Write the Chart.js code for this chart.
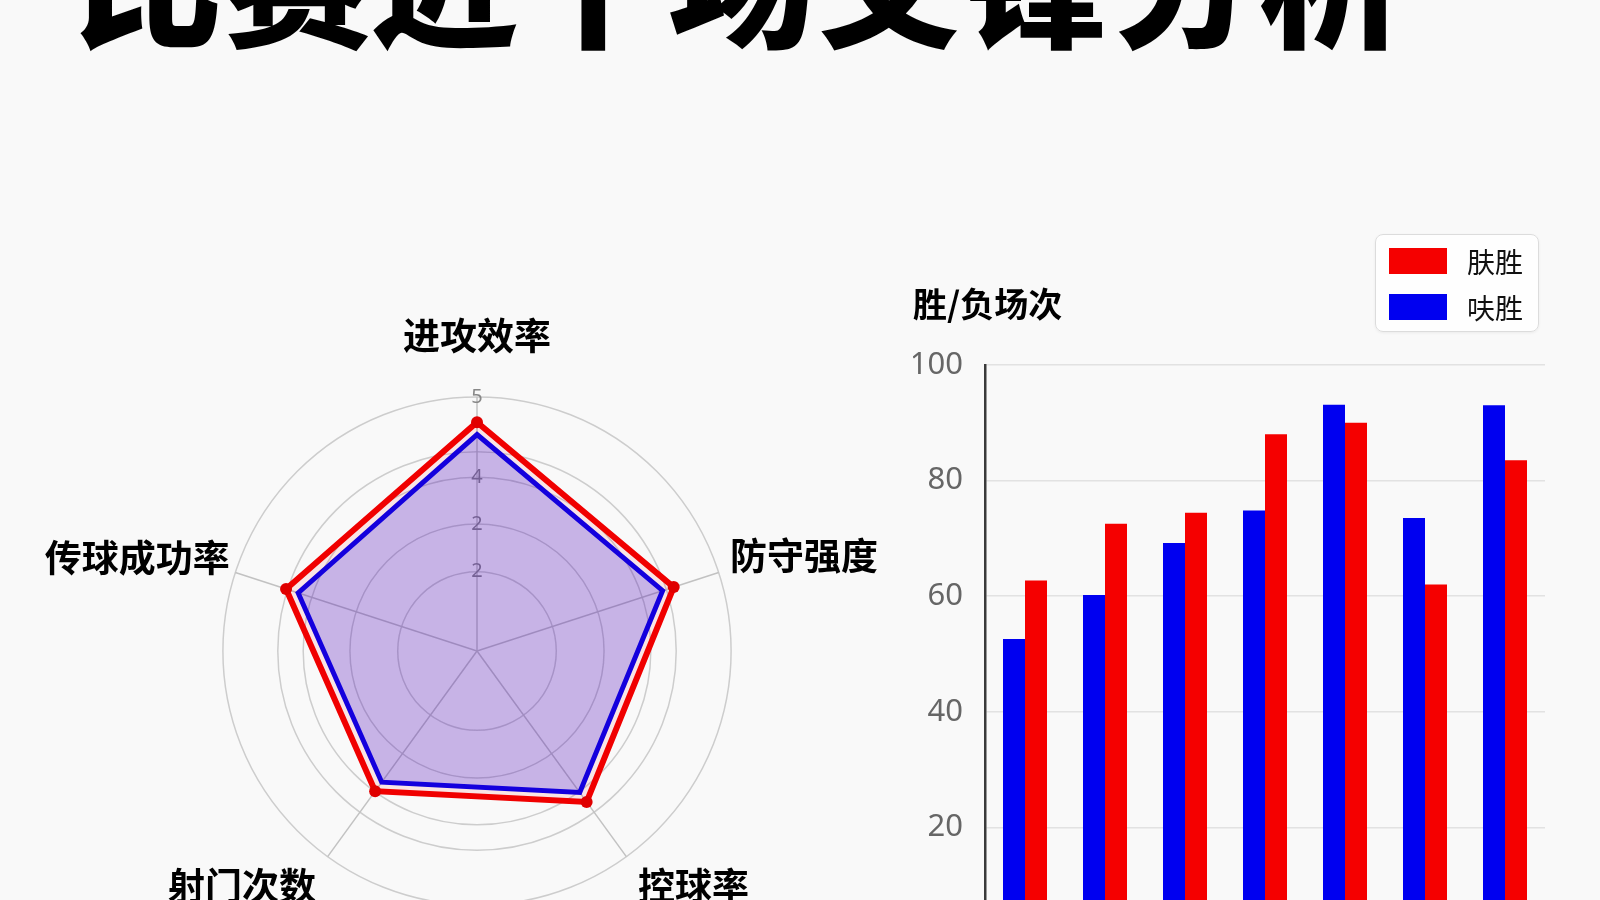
<!DOCTYPE html>
<html lang="zh">
<head>
<meta charset="utf-8">
<title>比赛近十场交锋分析</title>
<script src="https://cdn.jsdelivr.net/npm/chart.js@4.4.0/dist/chart.umd.min.js"></script>
<style>
    html, body { margin: 0; padding: 0; }
    body {
        width: 1600px; height: 900px; overflow: hidden; position: relative;
        background: #f9f9f9;
        font-family: 'Noto Sans CJK SC', sans-serif;
    }
    #page-title {
        position: absolute; left: 75px; top: -102px;
        font-size: 148px; line-height: 148px; font-weight: 900;
        color: #000; white-space: nowrap;
    }
    #radar { position: absolute; left: -73px; top: 293px; }
    #bars { position: absolute; left: 905px; top: 271px; }
    #bar-legend {
        position: absolute; left: 1375px; top: 234px; width: 162px; height: 96px;
        border: 1px solid #dcdcdc; border-radius: 8px;
        background: rgba(255, 255, 255, 0.75);
        box-shadow: 0 1px 3px rgba(0, 0, 0, 0.06);
    }
    .legend-item { position: absolute; left: 13px; height: 30px; display: flex; align-items: center; }
    .legend-swatch { width: 58px; height: 26px; margin-right: 20px; }
    .legend-text { font-size: 28px; color: #111; }
</style>
</head>
<body>
<div id="page-title">比赛近十场交锋分析</div>
<canvas id="radar" width="1100" height="656"></canvas>
<canvas id="bars" width="644" height="715"></canvas>
<div id="bar-legend"></div>

<script>
// Radar data
const radarLabels = ['进攻效率', '防守强度', '控球率', '射门次数', '传球成功率'];
const radarRed = [4.5, 4.07, 3.67, 3.41, 3.95];
const radarBlue = [4.26, 3.84, 3.44, 3.19, 3.7];
const ringValues = [0, 1.56, 2.5, 3.42, 3.92, 5];
const ringLabels = ['0', '2', '2', '4', '', '5'];

// Bar data
const matchLabels = ['第1场', '第2场', '第3场', '第4场', '第5场', '第6场', '第7场'];
const blueWins = [52.6, 60.2, 69.2, 74.8, 93.1, 73.5, 93];
const redWins = [62.7, 72.5, 74.4, 88, 90, 62, 83.5];
const yTicks = [0, 20, 40, 60, 80, 100];

const CJK = "'Noto Sans CJK SC', sans-serif";

// distance of each axis label from the outer ring
const labelPadding = [36, 0, 8, 8, -6];

// Render the radar chart
const radarChart = new Chart(document.getElementById('radar').getContext('2d'), {
    type: 'radar',
    data: {
        labels: radarLabels,
        datasets: [{
            label: '肤胜',
            data: radarRed,
            borderColor: '#f00000',
            backgroundColor: 'rgba(255, 0, 0, 0.08)',
            borderWidth: 6,
            pointRadius: 6,
            pointBackgroundColor: '#e00000',
            pointBorderWidth: 0,
            fill: true
        }, {
            label: '呋胜',
            data: radarBlue,
            borderColor: '#0000f0',
            backgroundColor: 'rgba(0, 0, 255, 0.22)',
            borderWidth: 5,
            pointRadius: 0,
            fill: true
        }]
    },
    options: {
        responsive: false,
        animation: false,
        plugins: {
            legend: { display: false },
            tooltip: { enabled: false }
        },
        scales: {
            r: {
                min: 0,
                max: 5,
                afterBuildTicks: (scale) => {
                    scale.ticks = ringValues.map(v => ({ value: v }));
                },
                ticks: {
                    showLabelBackdrop: false,
                    color: '#888',
                    font: { size: 20, family: "'Noto Sans', sans-serif" },
                    callback: (value, index) => ringLabels[index]
                },
                grid: { circular: true, color: '#cdcdcd', lineWidth: 1.5 },
                angleLines: { color: '#c2c2c2', lineWidth: 1.5 },
                pointLabels: {
                    color: '#000',
                    padding: (ctx) => labelPadding[ctx.index],
                    font: { size: 37, weight: 'bold', family: CJK, lineHeight: 0.7 }
                }
            }
        }
    }
});

// Render the bar chart
const barChart = new Chart(document.getElementById('bars').getContext('2d'), {
    type: 'bar',
    data: {
        labels: matchLabels,
        datasets: [{
            label: '呋胜',
            data: blueWins,
            backgroundColor: '#0000f0',
            categoryPercentage: 0.55,
            barPercentage: 1.0
        }, {
            label: '肤胜',
            data: redWins,
            backgroundColor: '#f50000',
            categoryPercentage: 0.55,
            barPercentage: 1.0
        }]
    },
    options: {
        responsive: false,
        animation: false,
        layout: { padding: { left: 8, right: 4 } },
        plugins: {
            legend: { display: false },
            tooltip: { enabled: false },
            title: {
                display: true,
                text: '胜/负场次',
                align: 'start',
                color: '#000',
                font: { size: 34, weight: 'bold', family: CJK },
                padding: { top: 13, bottom: 40 }
            }
        },
        scales: {
            x: {
                grid: { display: false },
                border: { color: '#333', width: 2 },
                ticks: { color: '#555', maxRotation: 0, autoSkip: false, font: { size: 24, family: CJK } }
            },
            y: {
                min: 0,
                max: 100,
                afterBuildTicks: (scale) => {
                    scale.ticks = yTicks.map(v => ({ value: v }));
                },
                afterFit: (scale) => {
                    scale.width = 72;
                },
                grid: { color: '#e2e2e2', lineWidth: 1.5, drawTicks: false },
                border: { color: '#3a3a3a', width: 2.5 },
                ticks: {
                    padding: 22,
                    color: '#666',
                    font: { size: 31, family: "'Noto Sans', sans-serif" }
                }
            }
        }
    }
});

// Build the legend box (red listed first)
const legendBox = document.getElementById('bar-legend');
barChart.data.datasets.slice().reverse().forEach((ds, i) => {
    const item = document.createElement('div');
    item.className = 'legend-item';
    item.style.top = (11 + i * 46) + 'px';
    item.innerHTML = '<span class="legend-swatch" style="background:' + ds.backgroundColor + '"></span>' +
        '<span class="legend-text">' + ds.label + '</span>';
    legendBox.appendChild(item);
});
</script>
</body>
</html>
